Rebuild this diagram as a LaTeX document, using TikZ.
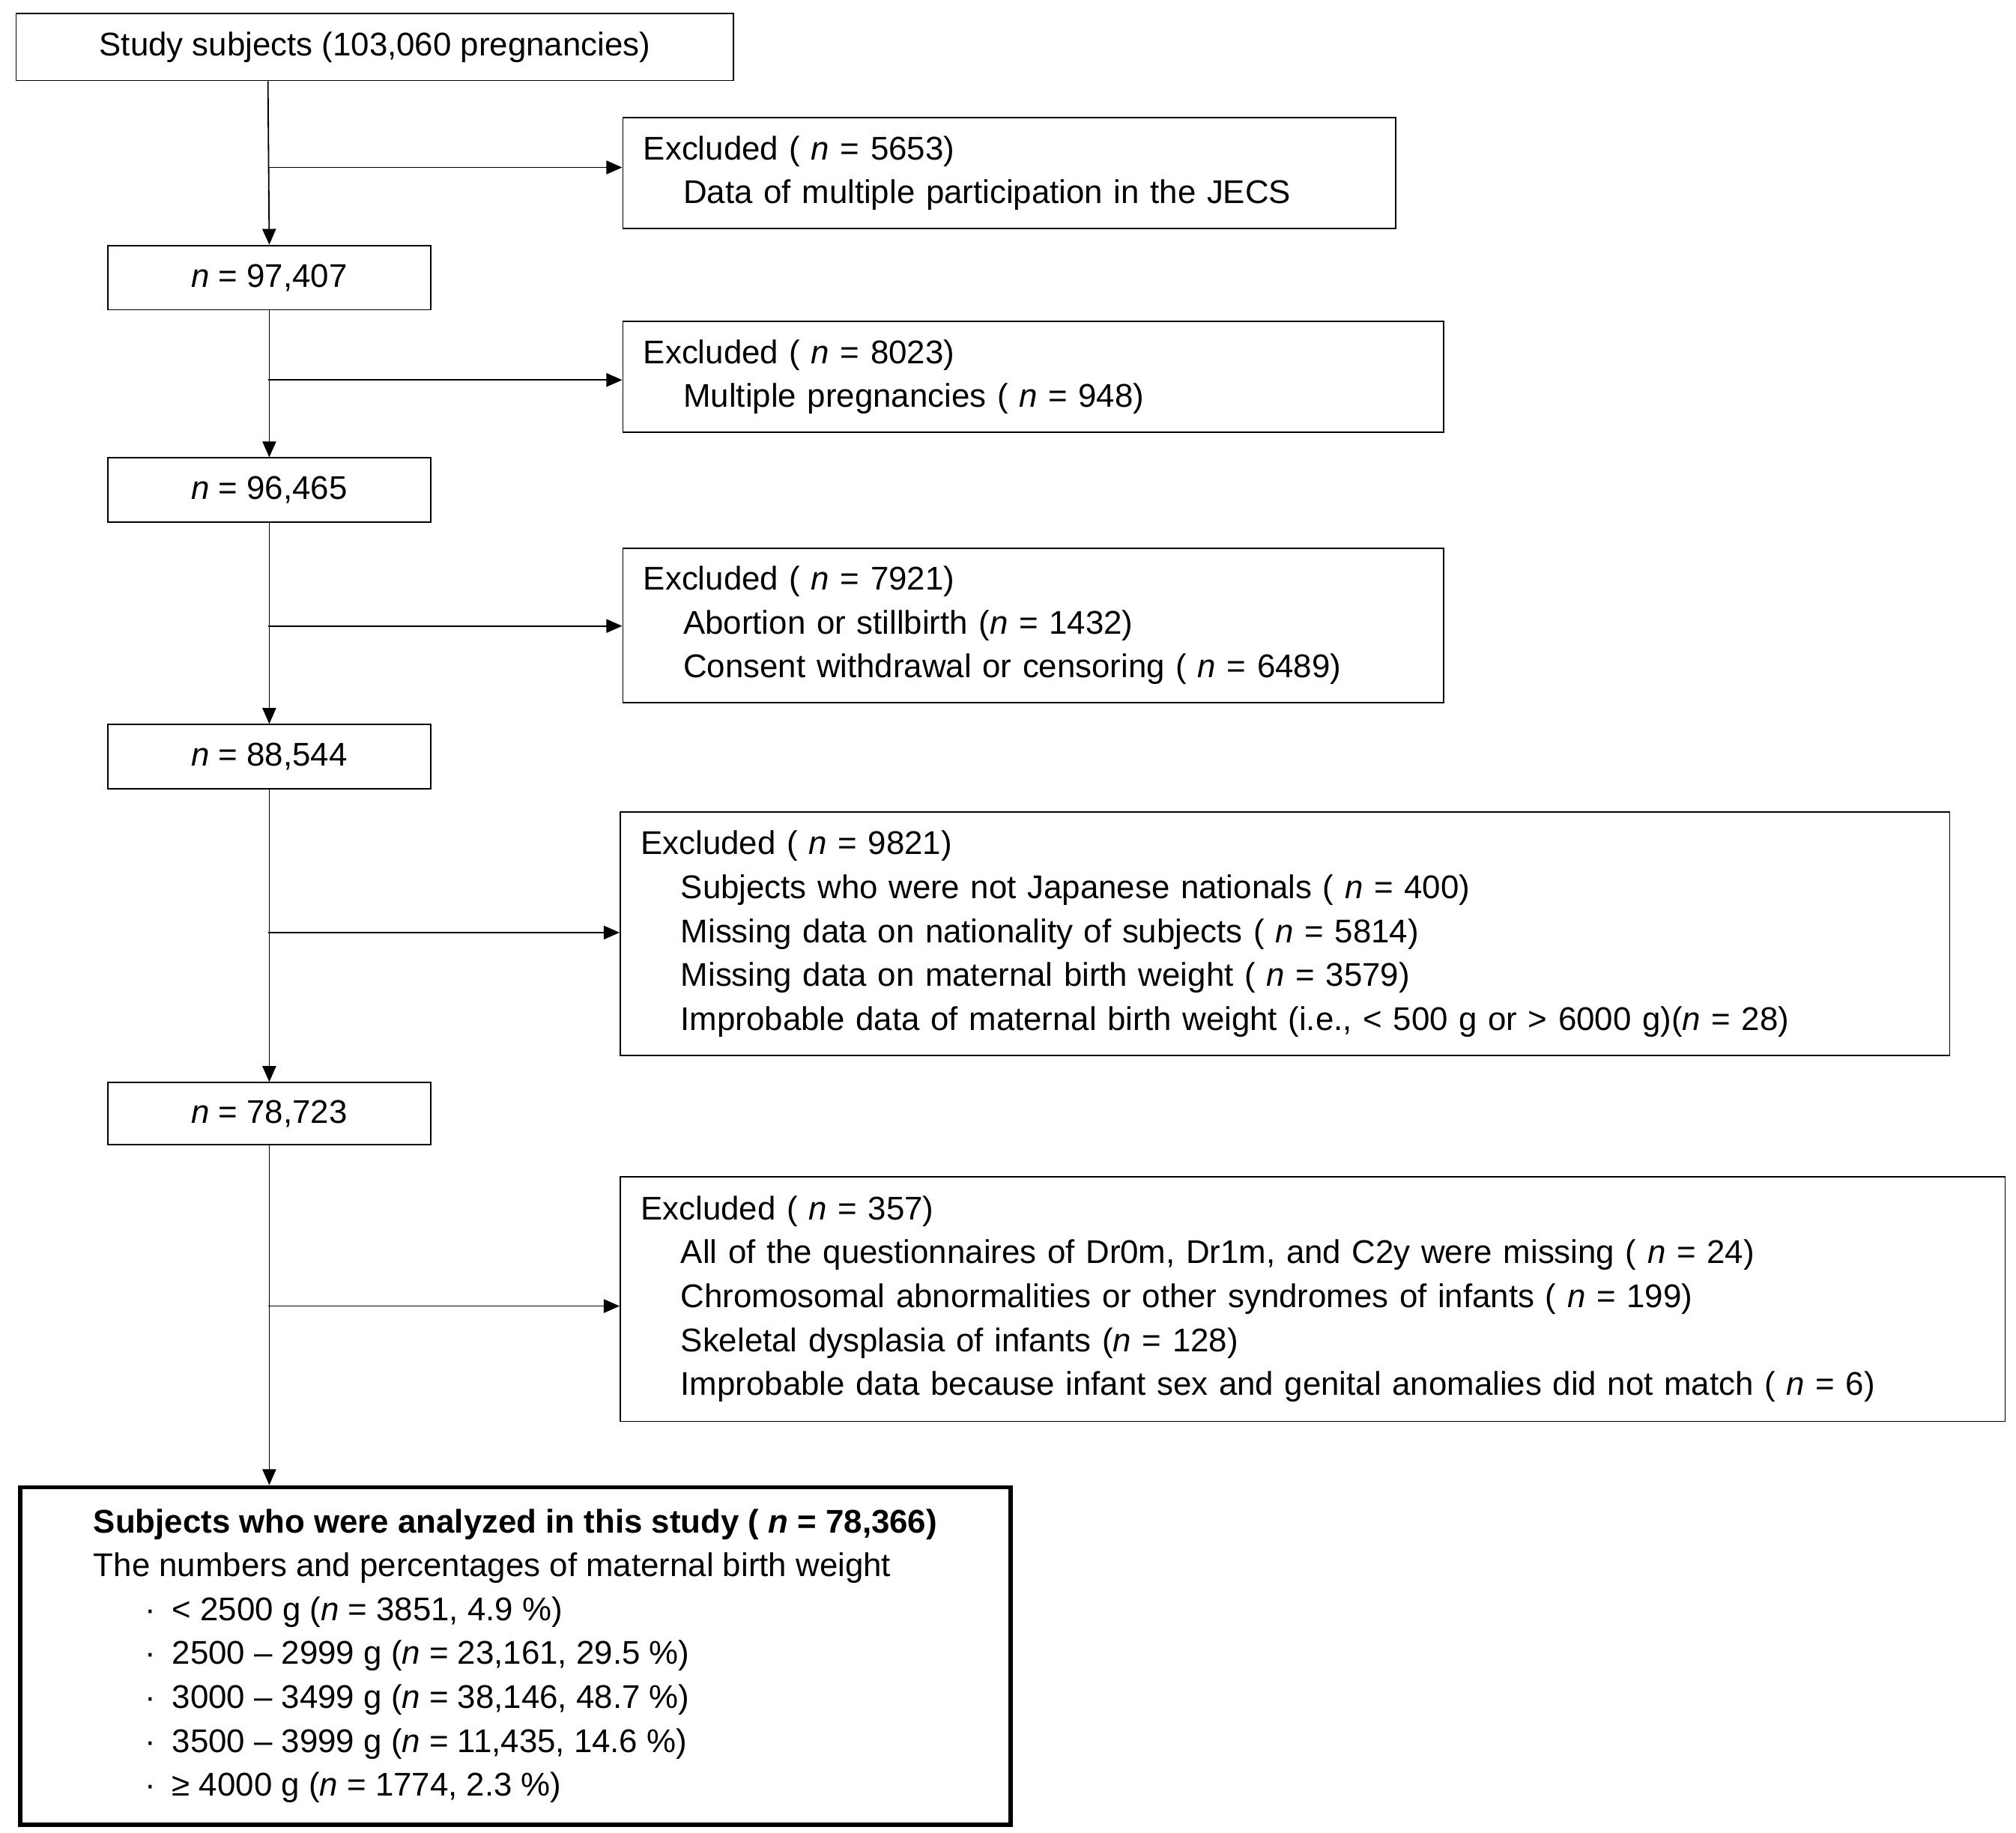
\documentclass[tikz,border=0pt]{standalone}
\usepackage{fontspec}
\setmainfont{Liberation Sans}
\usetikzlibrary{arrows.meta}
\newcommand{\nn}{\textit{n}}
\newcommand{\ind}{\hspace*{0.62cm}}
\newcommand{\itm}{\hspace*{0.8cm}·\hspace{0.25cm}}

\begin{document}
\begin{tikzpicture}[
    font=\fontsize{14.5}{19.4}\selectfont,
    box/.style={draw, line width=0.6pt, anchor=north west, inner sep=0pt},
    nbox/.style={box, minimum width=5.02cm, minimum height=1.0cm},
    xbox/.style={box, align=left, inner xsep=0.32cm},
    flow/.style={line width=0.6pt, -{Triangle[length=7pt,width=6pt]}}
]
\useasboundingbox (0,0) rectangle (31.3,-28.46);

% Main column
\node[box, minimum width=11.14cm, minimum height=1.04cm] (S0) at (0.24,-0.2) {Study subjects (103,060 pregnancies)};
\node[nbox] (S1) at (1.66,-3.8) {\nn{} = 97,407};
\node[nbox] (S2) at (1.66,-7.1) {\nn{} = 96,465};
\node[nbox] (S3) at (1.66,-11.24) {\nn{} = 88,544};
\node[nbox, minimum height=0.96cm] (S4) at (1.66,-16.8) {\nn{} = 78,723};
\node[box, line width=1.8pt, align=left, inner xsep=0.4cm, minimum width=15.38cm, minimum height=5.24cm] (S5) at (0.28,-23.06) {%
\textbf{Subjects who were analyzed in this study ( \textit{n} = 78,366)}\\
The numbers and percentages of maternal birth weight\\
\itm< 2500 g (\nn{} = 3851, 4.9 \%)\\
\itm2500 – 2999 g (\nn{} = 23,161, 29.5 \%)\\
\itm3000 – 3499 g (\nn{} = 38,146, 48.7 \%)\\
\itm3500 – 3999 g (\nn{} = 11,435, 14.6 \%)\\
\itm≥ 4000 g (\nn{} = 1774, 2.3 \%)};

% Exclusions
\node[xbox, text width=11.36cm, minimum height=1.72cm] (E1) at (9.66,-1.82) {%
Excluded ( \nn{} = 5653)\\
\ind Data of multiple participation in the JECS};
\node[xbox, text width=12.1cm, minimum height=1.72cm] (E2) at (9.66,-4.98) {%
Excluded ( \nn{} = 8023)\\
\ind Multiple pregnancies ( \nn{} = 948)};
\node[xbox, text width=12.1cm, minimum height=2.4cm] (E3) at (9.66,-8.5) {%
Excluded ( \nn{} = 7921)\\
\ind Abortion or stillbirth (\nn{} = 1432)\\
\ind Consent withdrawal or censoring ( \nn{} = 6489)};
\node[xbox, text width=20.0cm, minimum height=3.78cm] (E4) at (9.62,-12.6) {%
Excluded ( \nn{} = 9821)\\
\ind Subjects who were not Japanese nationals ( \nn{} = 400)\\
\ind Missing data on nationality of subjects ( \nn{} = 5814)\\
\ind Missing data on maternal birth weight ( \nn{} = 3579)\\
\ind Improbable data of maternal birth weight (i.e., < 500 g or > 6000 g)(\nn{} = 28)};
\node[xbox, text width=20.86cm, minimum height=3.8cm] (E5) at (9.62,-18.26) {%
Excluded ( \nn{} = 357)\\
\ind All of the questionnaires of Dr0m, Dr1m, and C2y were missing ( \nn{} = 24)\\
\ind Chromosomal abnormalities or other syndromes of infants ( \nn{} = 199)\\
\ind Skeletal dysplasia of infants (\nn{} = 128)\\
\ind Improbable data because infant sex and genital anomalies did not match ( \nn{} = 6)};

% Branch points
\coordinate (B1) at (4.16,-2.6);
\coordinate (B2) at (4.16,-5.9);
\coordinate (B3) at (4.16,-9.72);
\coordinate (B4) at (4.16,-14.48);
\coordinate (B5) at (4.16,-20.28);

% Connections
\draw[flow] (S0.south -| B1) -- (S1.north);
\draw[flow] (S1) -- (S2);
\draw[flow] (S2) -- (S3);
\draw[flow] (S3) -- (S4);
\draw[flow] (S4.south) -- (S4.south |- S5.north);
\foreach \i in {1,...,5}
  \draw[flow] (B\i) -- (B\i -| E\i.west);
\end{tikzpicture}
\end{document}
